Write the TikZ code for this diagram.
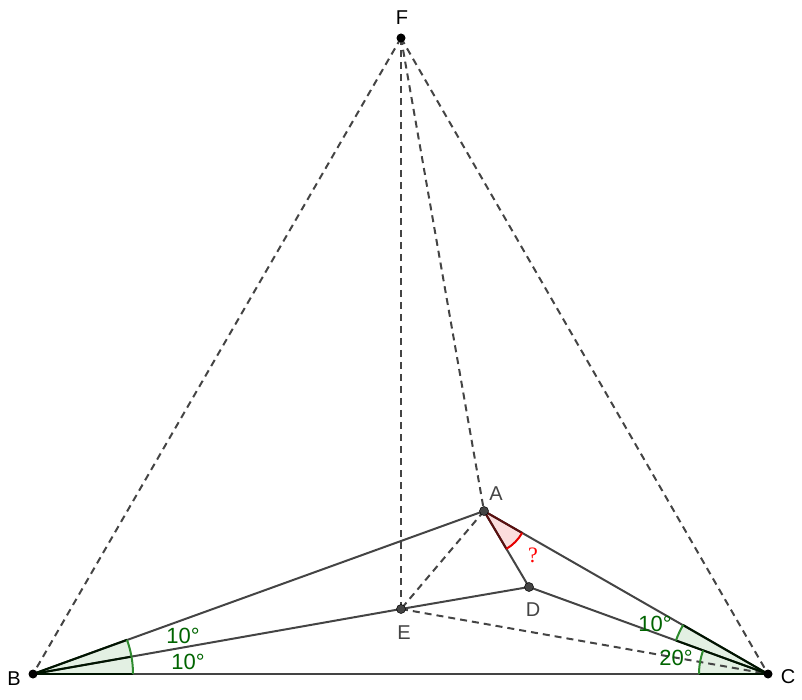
\documentclass[tikz,border=0pt]{standalone}
\usepackage{fontspec}
\usetikzlibrary{calc}
\setmainfont{Liberation Sans}
\newfontfamily\qfont{Liberation Serif}
\definecolor{lineg}{HTML}{444444}
\definecolor{angg}{HTML}{2E8B2E}
\definecolor{labg}{HTML}{006400}
\definecolor{angfill}{HTML}{E3F0E3}
\definecolor{redfill}{HTML}{FBDDDD}
\definecolor{darkred}{HTML}{5A0F0F}
\tikzset{
  seg/.style={draw=lineg, line width=2pt},
  dseg/.style={draw=lineg, line width=2pt, dash pattern=on 7pt off 5pt},
  ptb/.style={circle, fill=black, inner sep=0pt, minimum size=9pt},
  ptg/.style={circle, fill=lineg, draw=black, line width=0.5pt, inner sep=0pt, minimum size=9pt},
  plab/.style={font=\fontsize{20}{20}\selectfont, text=black, inner sep=0pt},
  plabg/.style={font=\fontsize{20}{20}\selectfont, text=lineg, inner sep=0pt},
  deg/.style={font=\fontsize{22}{22}\selectfont, text=labg, inner sep=0pt},
  angarc/.style={draw=angg, line width=2pt},
  leg/.style={line width=2pt, draw=black!80!labg},
}
\begin{document}
\begin{tikzpicture}[x=1pt,y=1pt]
\useasboundingbox (0,0) rectangle (802,699);
\coordinate (B) at (33,25);
\coordinate (C) at (768,25);
\coordinate (F) at (401,661);
\coordinate (A) at (484,188);
\coordinate (D) at (529,112);
\coordinate (E) at (401,90);
% angle fills
\fill[angfill] (B) -- ++(0:100) arc (0:20:100) -- cycle;
\fill[angfill] (C) -- ++(180:69) arc (180:160:69) -- ($(C)+(160:98)$) arc (160:150:98) -- cycle;
\fill[redfill] (A) -- ++(-59.4:44) arc (-59.4:-29.9:44) -- cycle;
% dashed lines
\draw[dseg] (F) -- (B);
\draw[dseg] (F) -- (C);
\draw[dseg] (F) -- (E);
\draw[dseg] (F) -- (A);
\draw[dseg] (A) -- (E);
\draw[dseg] (E) -- (C);
% solid lines
\draw[seg] (B) -- (C);
\draw[seg] (B) -- (A);
\draw[seg] (B) -- (E);
\draw[seg] (E) -- (D);
\draw[seg] (A) -- (C);
\draw[seg] (A) -- (D);
\draw[seg] (D) -- (C);
% angle legs and arcs
\draw[leg] (B) -- ++(0:100);
\draw[leg] (B) -- ++(10:100);
\draw[leg] (B) -- ++(20:100);
\draw[angarc] ($(B)+(0:100)$) arc (0:10:100);
\draw[angarc] ($(B)+(10:100)$) arc (10:20:100);
\draw[leg] (C) -- ++(180:69);
\draw[leg] (C) -- ++(160:98);
\draw[leg] (C) -- ++(150:98);
\draw[angarc] ($(C)+(180:69)$) arc (180:160:69);
\draw[angarc] ($(C)+(160:98)$) arc (160:150:98);
\draw[line width=2pt, draw=darkred] (A) -- ++(-59.4:44);
\draw[line width=2pt, draw=darkred] (A) -- ++(-29.9:44);
\draw[line width=2pt, draw=red!90!black] ($(A)+(-59.4:44)$) arc (-59.4:-29.9:44);
% points
\node[ptb] (pB) at (B) {};
\node[ptb] (pC) at (C) {};
\node[ptb] (pF) at (F) {};
\node[ptg] (pA) at (A) {};
\node[ptg] (pD) at (D) {};
\node[ptg] (pE) at (E) {};
% labels
\node[plab] (lB) at (14,20) {B};
\node[plab] (lC) at (788,22) {C};
\node[plab] (lF) at (402,681) {F};
\node[plabg] (lA) at (496,205) {A};
\node[plabg] (lD) at (533,89) {D};
\node[plabg] (lE) at (404,66) {E};
\node[deg] (d1) at (183,63) {10°};
\node[deg] (d2) at (188,37) {10°};
\node[deg] (d3) at (655,75) {10°};
\node[deg] (d4) at (676,41) {20°};
\node[text=red, font=\qfont\fontsize{22}{22}\selectfont, inner sep=0pt] (q) at (533,144) {?};
\end{tikzpicture}
\end{document}
